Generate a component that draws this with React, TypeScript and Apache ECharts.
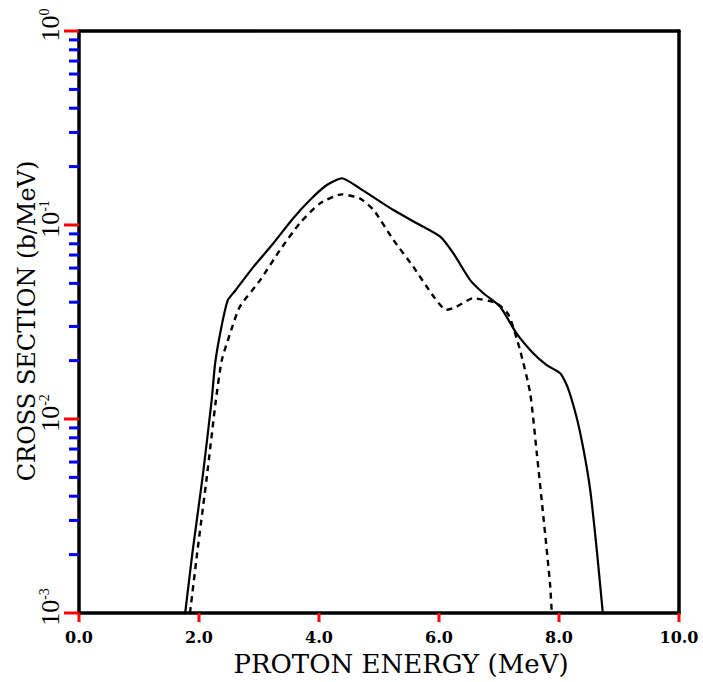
import React, { useEffect, useRef } from "react";
import * as echarts from "echarts";

// Proton energy (MeV) and cross section (b/MeV)
const solidEnergy = [1.77, 1.89, 2.06, 2.21, 2.27, 2.38, 2.48, 2.6, 2.91, 3.24, 3.57, 3.85, 4.13, 4.38, 4.68, 5.24, 5.63, 6.02, 6.24, 6.52, 6.74, 7.02, 7.29, 7.57, 7.79, 8.02, 8.14, 8.29, 8.41, 8.52, 8.63, 8.73];
const solidValue = [0.001, 0.00204, 0.00502, 0.0124, 0.0195, 0.0305, 0.041, 0.0457, 0.061, 0.0805, 0.1084, 0.1346, 0.1607, 0.1742, 0.1545, 0.1194, 0.1021, 0.0871, 0.0714, 0.052, 0.0445, 0.0379, 0.0277, 0.0218, 0.019, 0.0172, 0.0147, 0.0103, 0.00692, 0.00431, 0.00211, 0.001];

const dashedEnergy = [1.85, 1.97, 2.13, 2.28, 2.38, 2.52, 2.68, 3.02, 3.35, 3.68, 4.02, 4.38, 4.68, 4.91, 5.24, 5.57, 5.91, 6.12, 6.29, 6.57, 6.96, 7.16, 7.35, 7.52, 7.63, 7.74, 7.85, 7.88];
const dashedValue = [0.001, 0.00204, 0.00502, 0.0124, 0.0201, 0.0277, 0.0379, 0.052, 0.0743, 0.1021, 0.1294, 0.1439, 0.1371, 0.1194, 0.0838, 0.061, 0.0428, 0.0365, 0.0379, 0.0419, 0.0395, 0.0344, 0.0227, 0.01355, 0.00665, 0.00313, 0.00142, 0.001];

const xTitle = "PROTON ENERGY (MeV)";
const yTitle = "CROSS SECTION (b/MeV)";
const xMin = 0;
const xMax = 10;
const yMin = 0.001;
const yMax = 1;

// axis tick positions
const xMajorTicks = [0, 2, 4, 6, 8, 10];
const yMajorTicks = [0.001, 0.01, 0.1, 1];
const decades = [0.001, 0.01, 0.1];
const minorSteps = [2, 3, 4, 5, 6, 7, 8, 9];
const yMinorTicks: number[] = [];
decades.forEach((d) => minorSteps.forEach((k) => yMinorTicks.push(d * k)));

const tickSeries = (data: number[][], dx: number, dy: number, color: string) => ({
  type: "custom",
  xAxisIndex: 0,
  yAxisIndex: 0,
  silent: true,
  clip: false,
  z: 10,
  data,
  encode: { x: 0, y: 1 },
  renderItem: (_params: any, api: any) => {
    const p = api.coord([api.value(0), api.value(1)]);
    return {
      type: "line",
      shape: { x1: p[0] + dx, y1: p[1] + dy, x2: p[0], y2: p[1] },
      style: { stroke: color, lineWidth: 3 },
    };
  },
});

export default function App() {
  const ref = useRef<HTMLDivElement>(null);
  useEffect(() => {
    document.body.style.margin = "0";
    const chart = echarts.init(ref.current!, null, { renderer: "svg" });
    const pair = (xs: number[], ys: number[]) => xs.map((x, i) => [x, ys[i]]);
    const frameAxis = {
      axisLine: { show: true, onZero: false, lineStyle: { color: "#000", width: 3.5 } },
      axisTick: { show: false },
      axisLabel: { show: false },
      splitLine: { show: false },
    };
    chart.setOption({
      animation: false,
      backgroundColor: "#fff",
      grid: { left: 79, right: 24, top: 31, bottom: 69, show: false },
      xAxis: [
        {
          type: "value",
          min: xMin,
          max: xMax,
          interval: 2,
          splitLine: { show: false },
          axisLine: { show: true, onZero: false, lineStyle: { color: "#000", width: 3.5 } },
          axisTick: { show: false },
          axisLabel: {
            show: true,
            margin: 16,
            color: "#000",
            fontFamily: "DejaVu Serif",
            fontWeight: "bold",
            fontSize: 16,
            formatter: (v: number) => v.toFixed(1),
          },
        },
        { type: "value", position: "top", min: xMin, max: xMax, ...frameAxis },
      ],
      yAxis: [
        {
          type: "log",
          logBase: 10,
          min: yMin,
          max: yMax,
          splitLine: { show: false },
          axisLine: { show: true, onZero: false, lineStyle: { color: "#000", width: 3.5 } },
          axisTick: { show: false },
          axisLabel: {
            show: true,
            rotate: 90,
            margin: 16,
            color: "#000",
            formatter: (v: number) => `{sp| }{b|10}{s|${Math.round(Math.log10(v))}}`,
            rich: {
              sp: { width: 12, fontSize: 12 },
              b: { fontFamily: "Liberation Serif", fontSize: 26, color: "#000", lineHeight: 26 },
              s: { fontFamily: "Liberation Serif", fontSize: 14, color: "#000", verticalAlign: "top", lineHeight: 14 },
            },
          },
        },
        { type: "log", logBase: 10, position: "right", min: yMin, max: yMax, ...frameAxis },
      ],
      graphic: [
        {
          type: "text",
          x: 401,
          y: 664,
          style: {
            text: xTitle,
            align: "center",
            verticalAlign: "middle",
            fontFamily: "DejaVu Serif",
            fontSize: 26,
            fill: "#000",
          },
        },
        {
          type: "text",
          x: 27,
          y: 321,
          rotation: Math.PI / 2,
          style: {
            text: yTitle,
            align: "center",
            verticalAlign: "middle",
            fontFamily: "DejaVu Serif",
            fontSize: 24,
            fill: "#000",
          },
        },
      ],
      series: [
        {
          type: "line",
          xAxisIndex: 0,
          yAxisIndex: 0,
          data: pair(solidEnergy, solidValue),
          showSymbol: false,
          smooth: 0.2,
          lineStyle: { color: "#000", width: 2.2, type: "solid" },
        },
        {
          type: "line",
          xAxisIndex: 0,
          yAxisIndex: 0,
          data: pair(dashedEnergy, dashedValue),
          showSymbol: false,
          smooth: 0.2,
          lineStyle: { color: "#000", width: 2.4, type: [6, 5] },
        },
        tickSeries(xMajorTicks.map((v) => [v, yMin]), 0, 9, "#f00"),
        tickSeries(yMajorTicks.map((v) => [xMin, v]), -15, 0, "#f00"),
        tickSeries(yMinorTicks.map((v) => [xMin, v]), -10, 0, "#00f"),
      ],
    });
    return () => chart.dispose();
  }, []);
  return <div ref={ref} style={{ width: 703, height: 682 }} />;
}
